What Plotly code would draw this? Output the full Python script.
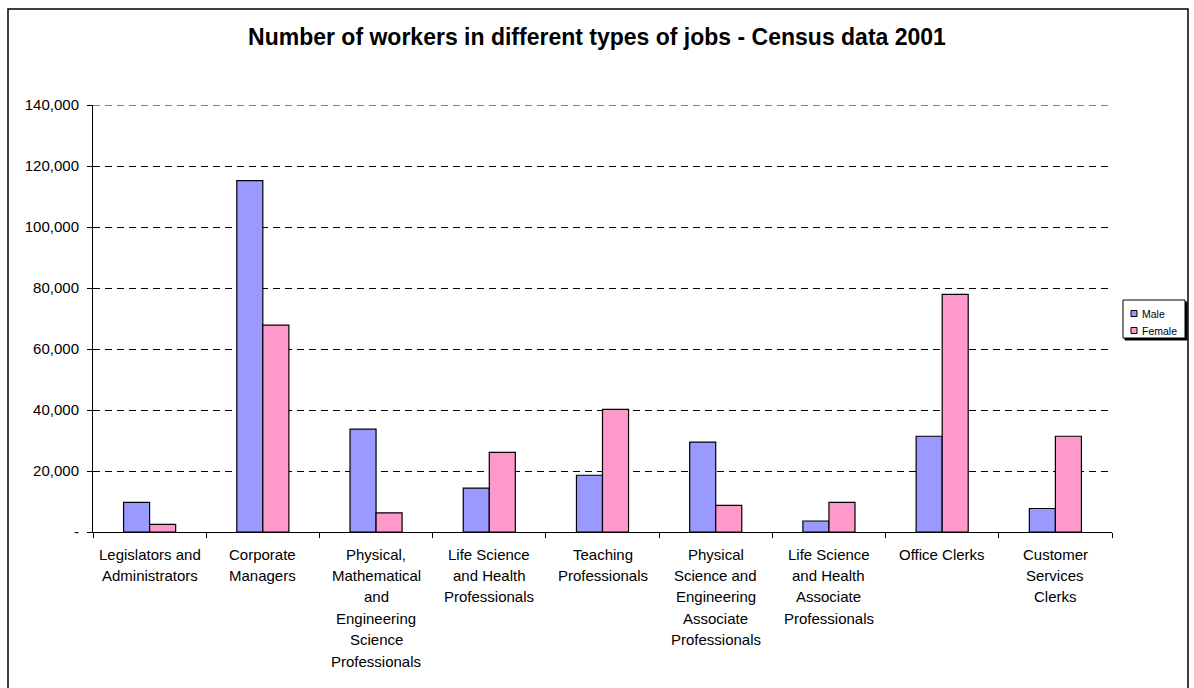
import plotly.graph_objects as go

# Census 2001: workers by occupation group
categories = [
    "Legislators and Administrators",
    "Corporate Managers",
    "Physical, Mathematical and Engineering Science Professionals",
    "Life Science and Health Professionals",
    "Teaching Professionals",
    "Physical Science and Engineering Associate Professionals",
    "Life Science and Health Associate Professionals",
    "Office Clerks",
    "Customer Services Clerks",
]
# wrapped axis labels, one list of lines per category
category_lines = [
    ["Legislators and", "Administrators"],
    ["Corporate", "Managers"],
    ["Physical,", "Mathematical", "and", "Engineering", "Science", "Professionals"],
    ["Life Science", "and Health", "Professionals"],
    ["Teaching", "Professionals"],
    ["Physical", "Science and", "Engineering", "Associate", "Professionals"],
    ["Life Science", "and Health", "Associate", "Professionals"],
    ["Office Clerks"],
    ["Customer", "Services", "Clerks"],
]
male = [9700, 115200, 33700, 14400, 18600, 29500, 3600, 31400, 7700]
female = [2500, 67800, 6300, 26100, 40200, 8700, 9700, 77900, 31400]

y_ticks = [0, 20000, 40000, 60000, 80000, 100000, 120000, 140000]
y_tick_text = ["-", "20,000", "40,000", "60,000", "80,000", "100,000", "120,000", "140,000"]
y_max = 140000

series_names = ["Male", "Female"]
series_colors = ["#9999FF", "#FF99CC"]

W, H = 1194, 688
L, R, T, B = 93, 1112, 105, 532  # plot-area edges in pixels
FONT = "Liberation Sans, Arial, sans-serif"
GRID_DASH = "7px,5px"


def px(x):
    return (x - L) / (R - L)


def py(y):
    return (B - y) / (B - T)


fig = go.Figure()
for name, vals, col in zip(series_names, [male, female], series_colors):
    fig.add_trace(go.Bar(
        x=categories, y=vals, name=name,
        marker=dict(color=col, line=dict(color="#000000", width=1.2)),
        showlegend=False,
    ))

annotations = []
for cat, lines in zip(categories, category_lines):
    for i, line in enumerate(lines):
        annotations.append(dict(
            x=cat, xref="x", y=0, yref="paper",
            text=line, showarrow=False,
            xanchor="center", yanchor="middle",
            yshift=-(22 + 21.4 * i),
            font=dict(family=FONT, size=15, color="#000000"),
        ))

shapes = [
    # outer chart frame
    dict(type="rect", xref="paper", yref="paper",
         x0=px(8), x1=px(1188), y0=py(700), y1=py(9),
         line=dict(color="#000000", width=1.5), layer="below"),
    # gridline along the top of the value axis
    dict(type="line", xref="paper", yref="y",
         x0=0, x1=1, y0=y_max, y1=y_max,
         line=dict(color="#000000", width=1, dash=GRID_DASH)),
    # legend shadow and box
    dict(type="rect", xref="paper", yref="paper",
         x0=px(1125), x1=px(1187), y0=py(340), y1=py(302),
         line=dict(color="#000000", width=1), fillcolor="#000000"),
    dict(type="rect", xref="paper", yref="paper",
         x0=px(1123), x1=px(1185), y0=py(338), y1=py(300),
         line=dict(color="#000000", width=1), fillcolor="#FFFFFF"),
]
# legend swatches and labels
for name, col, cy in zip(series_names, series_colors, [313.5, 330.5]):
    shapes.append(dict(type="rect", xref="paper", yref="paper",
                       x0=px(1131), x1=px(1137), y0=py(cy + 3), y1=py(cy - 3),
                       line=dict(color="#000000", width=1), fillcolor=col))
    annotations.append(dict(
        x=px(1140), xref="paper", y=py(cy), yref="paper",
        text=name, showarrow=False, xanchor="left", yanchor="middle",
        font=dict(family=FONT, size=10.5, color="#000000"),
    ))

fig.update_layout(
    width=W, height=H,
    margin=dict(l=L, r=W - R, t=T, b=H - B),
    paper_bgcolor="#FFFFFF", plot_bgcolor="#FFFFFF",
    barmode="group", bargap=0.54, bargroupgap=0,
    title=dict(
        text="<b>Number of workers in different types of jobs - Census data 2001</b>",
        x=0.5, xanchor="center", y=1 - 37 / H, yanchor="middle",
        font=dict(family=FONT, size=23, color="#000000"),
    ),
    xaxis=dict(
        showticklabels=False, showgrid=False,
        showline=True, linecolor="#000000", linewidth=1,
        ticks="outside", ticklen=5, tickcolor="#000000", tickson="boundaries",
        range=[-0.5, len(categories) - 0.5],
    ),
    yaxis=dict(
        range=[0, y_max], tickvals=y_ticks, ticktext=y_tick_text,
        showgrid=True, gridcolor="#000000", gridwidth=1, griddash=GRID_DASH,
        zeroline=False,
        showline=True, linecolor="#000000", linewidth=1,
        ticks="outside", ticklen=5, tickcolor="#000000",
        ticklabelstandoff=5,
        tickfont=dict(family=FONT, size=15, color="#000000"),
    ),
    annotations=annotations,
    shapes=shapes,
    showlegend=False,
)

fig.write_html("out.html")
